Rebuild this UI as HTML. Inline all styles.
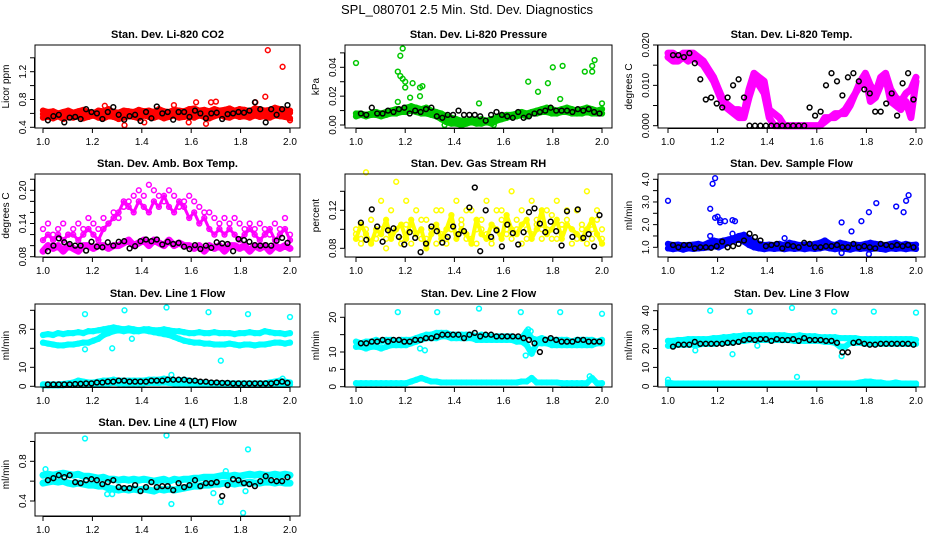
<!DOCTYPE html>
<html><head><meta charset="utf-8"><title>SPL_080701 Diagnostics</title>
<style>
html,body{margin:0;padding:0;background:#fff;}
svg{display:block;font-family:"Liberation Sans",Arial,sans-serif;}
</style></head>
<body>
<svg id="chart" width="936" height="540" viewBox="0 0 936 540" xmlns="http://www.w3.org/2000/svg">
<text x="467" y="14" text-anchor="middle" font-size="13">SPL_080701  2.5 Min. Std. Dev. Diagnostics</text>
</svg>
<script>
// ---- data ----
const xTicks = [1.0, 1.2, 1.4, 1.6, 1.8, 2.0];
const xTickLabels = ["1.0", "1.2", "1.4", "1.6", "1.8", "2.0"];

const co2Red1 = [0.64,0.62,0.63,0.60,0.62,0.64,0.61,0.63,0.65,0.62,0.60,0.64,0.63,0.66,0.62,0.61,0.64,0.63,0.62,0.65,0.63,0.64,0.62,0.66,0.63,0.62,0.65,0.64,0.63,0.66,0.67,0.64,0.65,0.63,0.66,0.64,0.65,0.67,0.64,0.66,0.65,0.63,0.67,0.66,0.64,0.65,0.68,0.66,0.65,0.64];
const co2Red2 = [0.54,0.55,0.53,0.56,0.52,0.55,0.54,0.56,0.53,0.55,0.57,0.54,0.53,0.56,0.55,0.52,0.54,0.56,0.55,0.53,0.57,0.55,0.54,0.56,0.53,0.55,0.57,0.54,0.55,0.56,0.54,0.57,0.55,0.53,0.56,0.58,0.55,0.54,0.57,0.55,0.56,0.54,0.57,0.55,0.56,0.54,0.57,0.56,0.55,0.53];
const co2Red3 = [0.59,0.60,0.58,0.59,0.61,0.58,0.60,0.59,0.58,0.60,0.61,0.59,0.58,0.60,0.59,0.61,0.58,0.60,0.59,0.60,0.58,0.61,0.59,0.60,0.59,0.58,0.61,0.60,0.59,0.61,0.60,0.62,0.60,0.59,0.61,0.62,0.60,0.61,0.60,0.62,0.61,0.60,0.62,0.61,0.60,0.62,0.61,0.60,0.62,0.61];
const co2OutX = [1.33,1.62,1.68,1.86,1.90,1.91,1.97,1.53,1.25,1.66,1.59,1.41,2.00,1.70];
const co2OutY = [0.43,0.76,0.76,0.76,0.84,1.51,1.27,0.72,0.71,0.45,0.47,0.47,0.50,0.77];
const co2Black = [0.50,0.56,0.58,0.47,0.54,0.55,0.52,0.66,0.62,0.60,0.52,0.62,0.69,0.58,0.51,0.56,0.58,0.49,0.62,0.53,0.70,0.60,0.62,0.51,0.62,0.62,0.55,0.64,0.60,0.53,0.60,0.61,0.52,0.59,0.60,0.62,0.61,0.64,0.76,0.66,0.47,0.66,0.58,0.66,0.72];

const presGreen1 = [0.008,0.008,0.007,0.008,0.009,0.008,0.009,0.010,0.011,0.010,0.012,0.013,0.012,0.011,0.012,0.010,0.009,0.008,0.006,0.005,0.004,0.003,0.003,0.004,0.003,0.004,0.003,0.004,0.005,0.006,0.007,0.007,0.008,0.009,0.008,0.009,0.010,0.011,0.012,0.011,0.010,0.011,0.012,0.011,0.010,0.011,0.012,0.011,0.010,0.011];
const presGreen2 = [0.006,0.007,0.006,0.007,0.007,0.006,0.007,0.008,0.008,0.009,0.009,0.010,0.009,0.008,0.008,0.007,0.006,0.004,0.002,0.001,0.001,0.000,0.001,0.002,0.001,0.001,0.002,0.001,0.003,0.004,0.005,0.006,0.006,0.007,0.006,0.008,0.008,0.009,0.009,0.008,0.008,0.009,0.009,0.008,0.008,0.008,0.009,0.008,0.008,0.008];
const presOutX = [1.00,1.18,1.19,1.17,1.18,1.20,1.19,1.20,1.23,1.26,1.27,1.26,1.22,1.17,1.50,1.70,1.74,1.78,1.80,1.84,1.83,1.93,1.96,1.96,1.97,2.00,1.36,1.56,1.40];
const presOutY = [0.043,0.048,0.053,0.037,0.034,0.030,0.032,0.026,0.029,0.026,0.027,0.020,0.019,0.016,0.015,0.030,0.023,0.029,0.040,0.041,0.018,0.037,0.037,0.041,0.045,0.015,0.000,0.000,0.002];
const presBlack = [0.008,0.007,0.012,0.008,0.008,0.010,0.009,0.011,0.012,0.008,0.010,0.009,0.011,0.012,0.006,0.005,0.007,0.007,0.010,0.007,0.007,0.007,0.006,0.003,0.007,0.009,0.007,0.006,0.005,0.009,0.005,0.006,0.008,0.009,0.010,0.012,0.010,0.010,0.010,0.009,0.011,0.010,0.011,0.009,0.008];

const tempMag1 = [0.018,0.018,0.017,0.018,0.018,0.018,0.017,0.016,0.014,0.012,0.009,0.006,0.005,0.004,0.004,0.003,0.009,0.013,0.012,0.011,0.004,0.003,0.002,0,0,0,0,0,0,0,0,0.002,0.002,0.003,0.003,0.004,0.006,0.008,0.011,0.013,0.010,0.008,0.012,0.013,0.009,0.007,0.006,0.008,0.009,0.012];
const tempMag2 = [0.017,0.016,0.016,0.017,0.016,0.017,0.016,0.015,0.013,0.011,0.008,0.005,0.004,0.003,0.002,0.002,0.007,0.011,0.010,0.008,0.002,0,0,0,0,0,0,0,0,0,0,0.001,0.002,0.002,0.003,0.003,0.005,0.008,0.010,0.012,0.006,0.007,0.010,0.012,0.006,0.005,0.004,0.006,0.002,0.011];
const tempBlack = [0.0175,0.0175,0.017,0.018,0.0155,0.0115,0.0065,0.007,0.0055,0.0045,0.007,0.010,0.0115,0.007,0,0,0,0,0,0,0,0,0,0,0,0.0045,0.0025,0.0035,0.010,0.013,0.011,0.0075,0.012,0.013,0.011,0.009,0.008,0.0035,0.0035,0.0055,0.008,0.0025,0.0105,0.013,0.0065];

const ambMag1 = [0.13,0.14,0.12,0.13,0.14,0.12,0.13,0.14,0.13,0.15,0.14,0.13,0.15,0.14,0.16,0.15,0.17,0.18,0.19,0.20,0.19,0.21,0.20,0.19,0.18,0.20,0.19,0.17,0.18,0.19,0.18,0.17,0.16,0.16,0.15,0.14,0.15,0.14,0.15,0.14,0.13,0.14,0.13,0.14,0.13,0.12,0.14,0.13,0.15,0.12];
const ambMag2 = [0.11,0.12,0.11,0.12,0.11,0.12,0.12,0.11,0.12,0.13,0.12,0.11,0.13,0.14,0.15,0.16,0.18,0.17,0.16,0.18,0.17,0.16,0.18,0.17,0.19,0.17,0.16,0.18,0.17,0.15,0.16,0.14,0.15,0.13,0.12,0.13,0.12,0.13,0.12,0.11,0.12,0.13,0.12,0.11,0.12,0.13,0.11,0.12,0.13,0.11];
const ambMag3 = [0.09,0.10,0.095,0.10,0.09,0.10,0.095,0.09,0.10,0.10,0.095,0.10,0.10,0.095,0.10,0.10,0.105,0.11,0.10,0.105,0.11,0.10,0.11,0.105,0.10,0.11,0.10,0.105,0.10,0.10,0.095,0.10,0.09,0.10,0.095,0.10,0.09,0.10,0.10,0.095,0.10,0.09,0.10,0.095,0.10,0.09,0.10,0.095,0.10,0.095];
const ambBlack = [0.09,0.10,0.113,0.106,0.103,0.10,0.10,0.091,0.107,0.098,0.097,0.106,0.10,0.107,0.108,0.095,0.099,0.108,0.111,0.108,0.111,0.102,0.107,0.103,0.105,0.098,0.094,0.101,0.094,0.10,0.096,0.106,0.104,0.103,0.09,0.112,0.110,0.107,0.101,0.10,0.101,0.100,0.109,0.114,0.105];

const rhYel1 = [0.10,0.09,0.16,0.11,0.095,0.13,0.09,0.12,0.15,0.085,0.13,0.10,0.12,0.09,0.11,0.10,0.085,0.12,0.09,0.10,0.13,0.11,0.09,0.12,0.085,0.10,0.13,0.09,0.12,0.11,0.095,0.14,0.10,0.12,0.09,0.13,0.11,0.10,0.12,0.09,0.13,0.10,0.11,0.085,0.12,0.10,0.14,0.09,0.12,0.10];
const rhYel2 = [0.09,0.105,0.095,0.085,0.10,0.095,0.11,0.09,0.10,0.105,0.09,0.11,0.095,0.10,0.08,0.095,0.105,0.09,0.10,0.115,0.09,0.10,0.095,0.085,0.11,0.095,0.09,0.105,0.10,0.09,0.115,0.10,0.095,0.105,0.11,0.09,0.10,0.12,0.095,0.10,0.11,0.09,0.105,0.10,0.095,0.09,0.10,0.11,0.095,0.085];
const rhYel3 = [0.095,0.085,0.10,0.11,0.09,0.10,0.08,0.095,0.10,0.09,0.105,0.085,0.095,0.11,0.09,0.10,0.12,0.095,0.085,0.10,0.095,0.105,0.12,0.09,0.10,0.11,0.095,0.085,0.10,0.12,0.10,0.09,0.11,0.085,0.10,0.095,0.105,0.09,0.10,0.115,0.09,0.105,0.12,0.10,0.09,0.105,0.085,0.10,0.11,0.09];
const rhBlack = [0.107,0.089,0.121,0.103,0.087,0.099,0.101,0.092,0.084,0.097,0.091,0.076,0.085,0.103,0.098,0.086,0.092,0.103,0.095,0.098,0.123,0.144,0.077,0.120,0.092,0.099,0.082,0.105,0.096,0.084,0.097,0.118,0.122,0.106,0.097,0.108,0.098,0.083,0.119,0.092,0.121,0.091,0.095,0.082,0.115];

const flowBlue1 = [1.15,1.1,1.12,1.08,1.1,1.12,1.15,1.1,1.2,1.3,1.25,1.3,1.35,1.4,1.5,1.55,1.4,1.25,1.15,1.1,1.12,1.1,1.15,1.1,1.2,1.15,1.1,1.12,1.1,1.15,1.2,1.3,1.15,1.1,1.2,1.15,1.1,1.12,1.1,1.15,1.2,1.15,1.12,1.1,1.15,1.2,1.1,1.15,1.1,1.12];
const flowBlue2 = [0.95,0.92,0.95,0.9,0.95,0.93,0.95,0.97,1.0,1.05,1.0,1.1,1.2,1.3,1.35,1.25,1.1,1.0,0.95,0.92,0.95,0.93,0.95,0.92,0.95,0.93,0.95,0.92,0.95,0.93,0.95,1.0,0.95,0.92,0.95,0.93,0.9,0.95,0.93,0.95,0.92,0.95,0.93,0.9,0.95,0.93,0.95,0.92,0.95,0.93];
const flowOutX = [1.0,1.17,1.18,1.19,1.19,1.2,1.21,1.21,1.23,1.26,1.27,1.26,1.7,1.74,1.78,1.81,1.84,1.92,1.95,1.96,1.97,1.7,1.81,1.17,1.47];
const flowOutY = [3.05,2.7,3.8,4.05,2.3,2.35,2.2,2.1,2.15,2.2,2.15,1.6,2.1,1.7,2.15,2.55,2.95,2.8,2.55,3.05,3.3,0.75,0.7,1.5,1.4];
const flowBlack = [1.1,1.0,1.1,1.1,0.95,1.0,1.0,0.98,1.05,1.25,1.0,1.05,1.15,1.3,1.6,1.45,1.3,1.05,1.1,1.15,0.95,1.1,1.05,1.0,1.2,1.15,1.0,1.0,1.05,1.05,1.1,1.0,1.0,1.15,1.0,1.05,1.0,0.95,1.15,1.1,1.05,1.1,1.05,1.1,1.0];

const l1Cyan1 = [27,27.5,27,28,27.5,28,28,28.5,28,29,29,29.5,30,30.5,31,30.5,30,30.5,30,29.5,30,30,29.5,29.5,30,29.5,29,29,28.5,28,28,28.5,28,28,28.5,28,28,28,27.5,28,28,28.5,28,28,29,28.5,28,28,27.5,28];
const l1Cyan2 = [23,22.5,22,21.5,21.5,22,22,22.5,23,23,24,25,27,28,29,29.5,29,29.5,29,29,29.5,29,28.5,28,27.5,27,26,25,24,23.5,23,23,22.5,22.5,22,22,22,22.5,22,21.5,22,22,21.5,22,22,22.5,23,23,22.5,23];
const l1Cyan3 = [1,1,1,1,1.2,1.5,2,3,2.5,2,2,2.5,3,3,3.5,3,3,3,3,3,3,3.5,3.5,3.5,4,3.5,3,3,3.5,3,2.5,2,2,1.5,1.5,1.5,1.5,1.5,1.5,1.5,1.5,1.5,1.5,1.5,1.5,2,2.5,3,2.5,2];
const l1Cyan4 = [0.5,0.5,0.6,0.5,0.6,0.8,1,1.2,1.2,1,1,1.2,1.5,1.5,1.8,1.6,1.5,1.5,1.5,1.6,1.6,1.8,1.8,1.8,2,1.8,1.5,1.5,1.6,1.5,1.2,1,1,0.8,0.8,0.8,0.8,0.8,0.8,0.8,0.8,0.8,0.8,0.8,0.8,1,1.2,1.5,1.2,1];
const l1OutX = [1.17,1.33,1.5,1.67,1.83,2.0,1.36,1.28,1.17,1.72,1.52,1.97];
const l1OutY = [38,40,41.5,39,38,36.5,25,20,19.5,13.5,6,4];
const l1Black = [1,1,1,1,1,1.2,1.3,1.5,1.5,2,2,2.5,2.5,3,3,2.5,2.5,2.5,2.5,3,3,3,3.5,3.5,3.5,3.5,3,3,2.5,2.5,2,2,1.8,1.8,1.5,1.5,1.5,1.5,1.5,1.5,1.5,1.5,2,2.5,1.8];

const l2Cyan1 = [13,12.5,13,13,13.5,13,13.5,13.5,13,13.5,13.5,13.5,14,14.5,15,15,15.5,15.5,15.5,15,15,15,15,15,14.5,15,14.5,14.5,14.5,14.5,14.5,14.5,14,14,16,14,13.5,14,13.5,13.5,13.5,13.5,13.5,13,13.5,13.5,13.5,13.5,13,13.5];
const l2Cyan2 = [11.5,11.5,11,11.5,11.5,11,11.5,12,12,12,12,12.5,13,13.5,14,14,14,14.5,14.5,14,14,14,14,14,13.5,13.5,13.5,13.5,13.5,13.5,13.5,13.5,13,13,12,9.5,12.5,12.5,12.5,12,12,12,12,12,12,12,12,12,12.5,12.5];
const l2Cyan3 = [1,1,1,1,1,1,1,1,1,1,1,1.5,2,2.5,2,1.5,1.5,1.2,1.2,1.2,1.2,1.2,1.2,1.2,1.2,1.2,1.2,1.2,1.2,1.2,1.2,1.2,1.2,1.5,1.5,2.5,1.2,1.2,1.2,1.2,1.2,1,1,1,1,1,1,2.5,1,1];
const l2OutX = [1.17,1.33,1.5,1.67,1.83,2.0,1.26,1.28,1.69,1.71,1.70,1.95];
const l2OutY = [21.5,21.5,22.5,21.5,21.5,21,11,10.5,9,16,16.5,3];
const l2Black = [12.5,12.5,13,13,13.5,13,13.5,13.5,13,13,13.5,13.5,14,14,14.5,15,15,15,15,14,15,15.5,14.5,15,15,14.5,14.5,14.5,14.5,14.5,14,13.5,12.5,10,13.5,14,13.5,13,13,13,13.5,13.5,13,13,13];

const l3Cyan1 = [24,24,24.5,24.5,25,25,25,25,25,25.5,25.5,26,26,26.5,26.5,27,27,27,27,27,27,27,27,27,26.5,26.5,27,26.5,26.5,26.5,26,26,26,26,25.5,25.5,25.5,25.5,25,25,25,25,25,25,25,25,25,25,25,24.5];
const l3Cyan2 = [21.5,21.5,22,22,22,22,22,22.5,22.5,22.5,23,23,23,23.5,24,24,24.5,24.5,24.5,24.5,24.5,24.5,24.5,24.5,24.5,24,24,24,24,24,24,23.5,23.5,23,21,21,23,23,23,22.5,22.5,22.5,22.5,22.5,22.5,22.5,22.5,22.5,22.5,22.5];
const l3Cyan3 = [2,1.5,1.5,1.5,1.5,1.5,1.5,1.5,1.5,1.5,1.5,1.5,1.5,1.5,1.5,1.5,1.5,1.5,1.5,1.5,1.5,1.5,1.5,1.5,1.5,1.5,1.5,1.5,1.5,1.5,1.5,1.5,1.5,1.5,1.5,1.5,1.5,1.5,2,2.5,2.5,2,2,1.5,1.5,2,1.5,1.5,1.5,1.5];
const l3Cyan4 = [1,0.8,0.8,0.8,0.8,0.8,0.8,0.8,0.8,0.8,0.8,0.8,0.8,0.8,0.8,0.8,0.8,0.8,0.8,0.8,0.8,0.8,0.8,0.8,0.8,0.8,0.8,0.8,0.8,0.8,0.8,0.8,0.8,0.8,0.8,0.8,0.8,0.8,0.8,0.8,0.8,0.8,0.8,0.8,0.8,0.8,0.8,0.8,0.8,0.8];
const l3OutX = [1.17,1.33,1.5,1.67,1.83,2.0,1.11,1.26,1.36,1.70,1.52,1.0];
const l3OutY = [40,39.5,41.5,39.5,39.5,39,19,17,21.5,16,5,3.5];
const l3Black = [21,22,22,22,23.5,22.5,22.5,22.5,22.5,22.5,23,23,23.5,24.5,25,24.5,25,25,24,25,24.5,24.5,25,24,25.5,24.5,24.5,24.5,24,24,23,18,18,23,23.5,22.5,22,22,22.5,22.5,22.5,22.5,22.5,22.5,22];

const l4Cyan1 = [0.66,0.67,0.66,0.67,0.68,0.67,0.66,0.67,0.65,0.65,0.64,0.63,0.64,0.62,0.62,0.61,0.62,0.61,0.62,0.61,0.62,0.61,0.60,0.61,0.62,0.60,0.62,0.61,0.62,0.62,0.63,0.63,0.64,0.64,0.64,0.65,0.66,0.65,0.66,0.65,0.66,0.67,0.66,0.67,0.66,0.66,0.67,0.66,0.67,0.66];
const l4Cyan2 = [0.58,0.59,0.60,0.59,0.60,0.58,0.57,0.58,0.57,0.56,0.56,0.55,0.55,0.53,0.52,0.51,0.52,0.51,0.52,0.51,0.52,0.51,0.50,0.52,0.51,0.52,0.51,0.52,0.53,0.54,0.55,0.55,0.56,0.56,0.57,0.57,0.58,0.58,0.57,0.58,0.58,0.59,0.58,0.58,0.59,0.59,0.58,0.59,0.58,0.58];
const l4OutX = [1.17,1.5,1.83,1.01,1.74,1.26,1.28,1.52,1.72,1.81,1.69,1.82];
const l4OutY = [1.03,1.06,0.92,0.72,0.70,0.47,0.47,0.37,0.39,0.28,0.48,0.50];
const l4Black = [0.61,0.63,0.66,0.64,0.66,0.59,0.58,0.61,0.62,0.61,0.57,0.59,0.61,0.54,0.53,0.53,0.56,0.50,0.54,0.59,0.54,0.55,0.55,0.51,0.58,0.54,0.56,0.61,0.55,0.58,0.58,0.59,0.45,0.56,0.62,0.61,0.58,0.57,0.55,0.60,0.65,0.61,0.60,0.60,0.64];

// ---- layout ----
const NS = "http://www.w3.org/2000/svg";
const svg = document.getElementById("chart");
const cols = [{l:35,r:300,x0:43,x1:290},{l:345,r:612,x0:356,x1:602},{l:658,r:925,x0:668,x1:916}];
const rows = [{t:45,b:128},{t:174,b:257},{t:304,b:387},{t:433,b:516}];

function el(tag, attrs, parent){const e=document.createElementNS(NS,tag);for(const k in attrs)e.setAttribute(k,attrs[k]);(parent||svg).appendChild(e);return e;}

const panels = [
 {key:"co2",title:"Stan. Dev. Li-820 CO2",ylab:"Licor ppm",c:0,r:0,color:"#ff0000",v0:0.4,p0:127.3,v1:1.2,p1:71.7,ticks:[0.4,0.6,0.8,1.0,1.2,1.4],labels:[0.4,0.8,1.2],fmt:1,series:[co2Red1,co2Red2,co2Red3],band:[6,6,6],ox:co2OutX,oy:co2OutY,black:co2Black},
 {key:"pressure",title:"Stan. Dev. Li-820 Pressure",ylab:"kPa",c:1,r:0,color:"#00c800",v0:0,p0:125,v1:0.04,p1:67.3,ticks:[0,0.01,0.02,0.03,0.04,0.05],labels:[0,0.02,0.04],fmt:2,series:[presGreen1,presGreen2],band:[6,6],ox:presOutX,oy:presOutY,black:presBlack},
 {key:"temp",title:"Stan. Dev. Li-820 Temp.",ylab:"degrees C",c:2,r:0,color:"#ff00ff",v0:0,p0:125.7,v1:0.02,p1:45,ticks:[0,0.005,0.01,0.015,0.02],labels:[0,0.01,0.02],fmt:3,series:[tempMag1,tempMag2],band:[7,7],ox:[],oy:[],black:tempBlack},
 {key:"ambtemp",title:"Stan. Dev. Amb. Box Temp.",ylab:"degrees C",c:0,r:1,color:"#ff00ff",v0:0.08,p0:256.7,v1:0.20,p1:190.3,ticks:[0.08,0.10,0.12,0.14,0.16,0.18,0.20,0.22],labels:[0.08,0.14,0.20],fmt:2,series:[ambMag1,ambMag2,ambMag3],band:[0,3,7],ox:[],oy:[],black:ambBlack},
 {key:"rh",title:"Stan. Dev. Gas Stream RH",ylab:"percent",c:1,r:1,color:"#ffff00",v0:0.08,p0:248.3,v1:0.12,p1:210.3,ticks:[0.08,0.10,0.12,0.14],labels:[0.08,0.12],fmt:2,series:[rhYel1,rhYel2,rhYel3],band:[0,4,0],ox:[],oy:[],black:rhBlack},
 {key:"sampleflow",title:"Stan. Dev. Sample Flow",ylab:"ml/min",c:2,r:1,color:"#0000ff",v0:1,p0:247.3,v1:4,p1:179.3,ticks:[1,1.5,2,2.5,3,3.5,4],labels:[1,2,3,4],fmt:1,series:[flowBlue1,flowBlue2],band:[6,6],ox:flowOutX,oy:flowOutY,black:flowBlack},
 {key:"line1",title:"Stan. Dev. Line 1 Flow",ylab:"ml/min",c:0,r:2,color:"#00ffff",v0:0,p0:386.3,v1:30,p1:329.3,ticks:[0,10,20,30,40],labels:[0,10,30],fmt:0,series:[l1Cyan1,l1Cyan2,l1Cyan3,l1Cyan4],band:[6,6,6,6],ox:l1OutX,oy:l1OutY,black:l1Black},
 {key:"line2",title:"Stan. Dev. Line 2 Flow",ylab:"ml/min",c:1,r:2,color:"#00ffff",v0:0,p0:386.7,v1:20,p1:317.3,ticks:[0,5,10,15,20],labels:[0,5,10,20],fmt:0,series:[l2Cyan1,l2Cyan2,l2Cyan3],band:[6,6,6],ox:l2OutX,oy:l2OutY,black:l2Black},
 {key:"line3",title:"Stan. Dev. Line 3 Flow",ylab:"ml/min",c:2,r:2,color:"#00ffff",v0:0,p0:386.3,v1:40,p1:310.7,ticks:[0,10,20,30,40],labels:[0,10,20,30,40],fmt:0,series:[l3Cyan1,l3Cyan2,l3Cyan3,l3Cyan4],band:[6,6,6,6],ox:l3OutX,oy:l3OutY,black:l3Black},
 {key:"line4",title:"Stan. Dev. Line 4 (LT) Flow",ylab:"ml/min",c:0,r:3,color:"#00ffff",v0:0.4,p0:501,v1:0.8,p1:461.3,ticks:[0.4,0.6,0.8,1.0],labels:[0.4,0.8],fmt:1,series:[l4Cyan1,l4Cyan2],band:[7,7],ox:l4OutX,oy:l4OutY,black:l4Black}
];

function drawPoint(g, cx, cy, color, name){
  const p = el("circle",{cx:cx.toFixed(1),cy:cy.toFixed(1),r:2.4,fill:"none",stroke:color,"stroke-width":1.5},g);
  
  
}

panels.forEach(P=>{
  const C=cols[P.c], R=rows[P.r];
  const xs = v => C.x0 + (v-1)*(C.x1-C.x0);
  const ys = v => P.p0 + (v-P.v0)*(P.p1-P.p0)/(P.v1-P.v0);
  const g = el("g",{});
  
  
  const t = el("text",{x:(C.l+C.r)/2,y:R.t-7,"text-anchor":"middle","font-size":11,"font-weight":"bold"},g);
  t.textContent = P.title;
  
  
  // dense bands from the series
  P.series.forEach((s,si)=>{
    const w = P.band[si];
    if(!w) return;
    const pts = s.map((v,i)=> xs(1+ i/(s.length-1)).toFixed(1)+","+ys(v).toFixed(1)).join(" ");
    const pl = el("polyline",{points:pts,fill:"none",stroke:P.color,"stroke-width":w,"stroke-linejoin":"round","stroke-linecap":"round"},g);
    
    
  });
  // series points
  P.series.forEach((s,si)=>{
    s.forEach((v,i)=>{ drawPoint(g, xs(1+ i/(s.length-1)), ys(v), P.color, P.key+'-point'); });
  });
  P.ox.forEach((xv,i)=>{ drawPoint(g, xs(xv), ys(P.oy[i]), P.color, P.key+'-outlier'); });
  P.black.forEach((v,i)=>{ drawPoint(g, xs(1.02 + i*0.97/(P.black.length-1)), ys(v), "#000", P.key+'-mean-point'); });
  // frame
  const fr = el("rect",{x:C.l,y:R.t,width:C.r-C.l,height:R.b-R.t,fill:"none",stroke:"#000","stroke-width":1},g);
  
  
  // x axis
  const xa = el("g",{},g);
  
  
  el("line",{x1:xs(1),x2:xs(2),y1:R.b+0.5,y2:R.b+0.5,stroke:"#000"},xa);
  xTicks.forEach((v,i)=>{
    el("line",{x1:xs(v),x2:xs(v),y1:R.b,y2:R.b+5,stroke:"#000"},xa);
    const tl = el("text",{x:xs(v),y:R.b+17,"text-anchor":"middle","font-size":10},xa);
    tl.textContent = xTickLabels[i];
    
    
  });
  // y axis
  const ya = el("g",{},g);
  
  
  const tk = P.ticks;
  el("line",{x1:C.l-0.5,x2:C.l-0.5,y1:ys(tk[0]),y2:ys(tk[tk.length-1]),stroke:"#000"},ya);
  tk.forEach(v=>{ el("line",{x1:C.l-5,x2:C.l,y1:ys(v),y2:ys(v),stroke:"#000"},ya); });
  P.labels.forEach(v=>{
    const yy = ys(v), xx = C.l-9;
    const tl = el("text",{x:xx,y:yy,"text-anchor":"middle","font-size":10,transform:`rotate(-90 ${xx} ${yy})`},ya);
    tl.textContent = v.toFixed(P.fmt);
    
    
  });
  const my=(R.t+R.b)/2, mx=C.l-26;
  const yl = el("text",{x:mx,y:my,"text-anchor":"middle","font-size":10,transform:`rotate(-90 ${mx} ${my})`},ya);
  yl.textContent = P.ylab;
  
  
});
</script>
</body></html>
